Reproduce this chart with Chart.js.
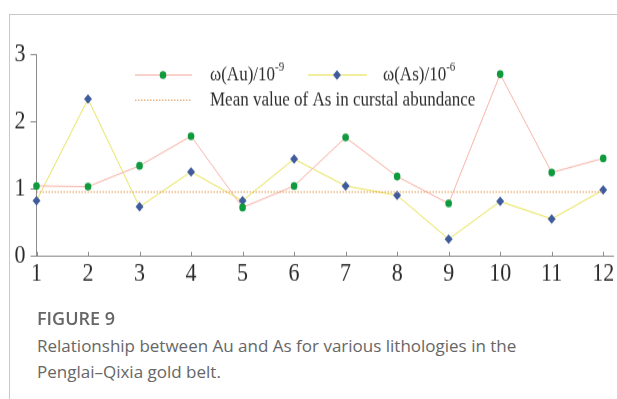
<!DOCTYPE html>
<html>
<head>
<meta charset="utf-8">
<script src="https://cdn.jsdelivr.net/npm/chart.js@4/dist/chart.umd.min.js"></script>
<style>
  html, body { margin: 0; padding: 0; background: #fff; }
  body { width: 617px; height: 399px; position: relative; overflow: hidden; }
  #frame { position: absolute; left: 9px; top: 14px; width: 620px; height: 400px;
           border-left: 1px solid #c8c8c8; border-top: 1px solid #c8c8c8; }
  #plot { position: absolute; left: 0; top: 0; width: 617px; height: 260px;
          transform: scaleY(1.2); transform-origin: 0 0; }
  .cap { position: absolute; left: 37px; font-family: "Open Sans", sans-serif; color: #666; }
  #figno { top: 306px; font-size: 18px; font-weight: 600; }
  #figtxt { top: 333px; font-size: 17px; line-height: 26px; width: 570px; }
</style>
</head>
<body>
<div id="frame"></div>
<div id="plot"><canvas id="c"></canvas></div>
<div id="figno" class="cap">FIGURE 9</div>
<div id="figtxt" class="cap">Relationship between Au and As for various lithologies in the<br>Penglai–Qixia gold belt.</div>
<script>
// Sample numbers 1–12 along the x axis
const samples = [1, 2, 3, 4, 5, 6, 7, 8, 9, 10, 11, 12];
// ω(Au) in 10^-9
const auValues = [1.04, 1.03, 1.34, 1.78, 0.72, 1.04, 1.76, 1.18, 0.78, 2.70, 1.24, 1.45];
// ω(As) in 10^-6
const asValues = [0.82, 2.33, 0.73, 1.25, 0.82, 1.44, 1.04, 0.90, 0.25, 0.81, 0.55, 0.98];
// Mean value of As in crustal abundance
const asCrustMean = 0.95;
const yTicks = [0, 1, 2, 3];

const AU_LINE = '#f6b3a8', AU_PT = '#0f9a3e';
const AS_LINE = '#e8e35c', AS_PT = '#3f5b9c';
const MEAN_COL = '#e29a55';
const AXIS_COL = '#8c8c8c';
const SERIF = '"Liberation Serif", "Times New Roman", serif';

const toXY = vals => vals.map((v, i) => ({ x: samples[i], y: v }));

// legend drawn in the upper part of the plot
const legendPlugin = {
  id: 'legendBlock',
  afterDraw(chart) {
    const ctx = chart.ctx;
    ctx.save();
    ctx.textBaseline = 'middle';
    ctx.fillStyle = '#2e2e2e';
    const r1 = 62.5, r2 = 83.5;
    // Au entry
    ctx.strokeStyle = AU_LINE; ctx.lineWidth = 1;
    ctx.beginPath(); ctx.moveTo(135, r1); ctx.lineTo(192, r1); ctx.stroke();
    ctx.fillStyle = AU_PT; ctx.beginPath(); ctx.arc(163, r1, 3.3, 0, Math.PI * 2); ctx.fill();
    ctx.fillStyle = '#2e2e2e';
    ctx.font = '17px ' + SERIF;
    ctx.fillText('ω(Au)/10', 210, r1);
    let w = ctx.measureText('ω(Au)/10').width;
    ctx.font = '11px ' + SERIF;
    ctx.fillText('-9', 210 + w, r1 - 6);
    // As entry
    ctx.strokeStyle = AS_LINE;
    ctx.beginPath(); ctx.moveTo(308, r1); ctx.lineTo(367, r1); ctx.stroke();
    ctx.fillStyle = AS_PT; ctx.beginPath();
    ctx.moveTo(337, r1 - 4); ctx.lineTo(341, r1); ctx.lineTo(337, r1 + 4); ctx.lineTo(333, r1); ctx.closePath(); ctx.fill();
    ctx.fillStyle = '#2e2e2e';
    ctx.font = '17px ' + SERIF;
    ctx.fillText('ω(As)/10', 383, r1);
    w = ctx.measureText('ω(As)/10').width;
    ctx.font = '11px ' + SERIF;
    ctx.fillText('-6', 383 + w, r1 - 6);
    // mean line entry
    ctx.strokeStyle = MEAN_COL; ctx.setLineDash([1.5, 1.5]);
    ctx.beginPath(); ctx.moveTo(135, r2); ctx.lineTo(192, r2); ctx.stroke();
    ctx.setLineDash([]);
    ctx.font = '17px ' + SERIF;
    ctx.fillText('Mean value of As in curstal abundance', 210, r2);
    ctx.restore();
  }
};

// small tick marks pointing up from the x axis
const innerTicks = {
  id: 'innerTicks',
  afterDatasetsDraw(chart) {
    const xs = chart.scales.x, ctx = chart.ctx, b = chart.chartArea.bottom;
    ctx.save();
    ctx.strokeStyle = AXIS_COL; ctx.lineWidth = 1;
    samples.forEach(s => {
      const px = Math.round(xs.getPixelForValue(s)) + 0.5;
      ctx.beginPath(); ctx.moveTo(px, b); ctx.lineTo(px, b - 3.5); ctx.stroke();
    });
    ctx.restore();
  }
};

new Chart(document.getElementById('c'), {
  type: 'line',
  data: {
    datasets: [
      {
        label: 'Mean value of As in curstal abundance',
        data: [{ x: samples[0], y: asCrustMean }, { x: samples[samples.length - 1], y: asCrustMean }],
        borderColor: MEAN_COL, borderWidth: 1, borderDash: [1.5, 1.5],
        pointRadius: 0, clip: false
      },
      {
        label: 'ω(Au)/10-9',
        data: toXY(auValues),
        borderColor: AU_LINE, borderWidth: 1,
        pointStyle: 'circle', pointRadius: 3.3, pointBackgroundColor: AU_PT, pointBorderWidth: 0,
        clip: false
      },
      {
        label: 'ω(As)/10-6',
        data: toXY(asValues),
        borderColor: AS_LINE, borderWidth: 1,
        pointStyle: 'rectRot', pointRadius: 4, pointBackgroundColor: AS_PT, pointBorderWidth: 0,
        clip: false
      }
    ]
  },
  options: {
    responsive: true,
    maintainAspectRatio: false,
    animation: false,
    events: [],
    layout: { padding: { top: 45, right: 4, left: 0, bottom: 0 } },
    plugins: { legend: { display: false }, tooltip: { enabled: false } },
    scales: {
      x: {
        type: 'linear', min: 1, max: 12.19,
        afterBuildTicks(scale) { scale.ticks = samples.map(v => ({ value: v })); },
        afterFit(scale) { scale.height = 46.7; },
        grid: { display: false },
        border: { display: true, color: AXIS_COL, width: 1 },
        ticks: { color: '#2a2a2a', padding: -6, maxRotation: 0, autoSkip: false,
                 font: { family: SERIF, size: 22 } }
      },
      y: {
        min: 0, max: 3,
        afterBuildTicks(scale) { scale.ticks = yTicks.map(v => ({ value: v })); },
        afterFit(scale) { scale.width = 36.5; },
        grid: { drawOnChartArea: false, drawTicks: true, tickLength: 6, color: AXIS_COL },
        border: { display: true, color: AXIS_COL, width: 1 },
        ticks: { color: '#2a2a2a', padding: 5, font: { family: SERIF, size: 22 } }
      }
    }
  },
  plugins: [legendPlugin, innerTicks]
});
</script>
</body>
</html>
